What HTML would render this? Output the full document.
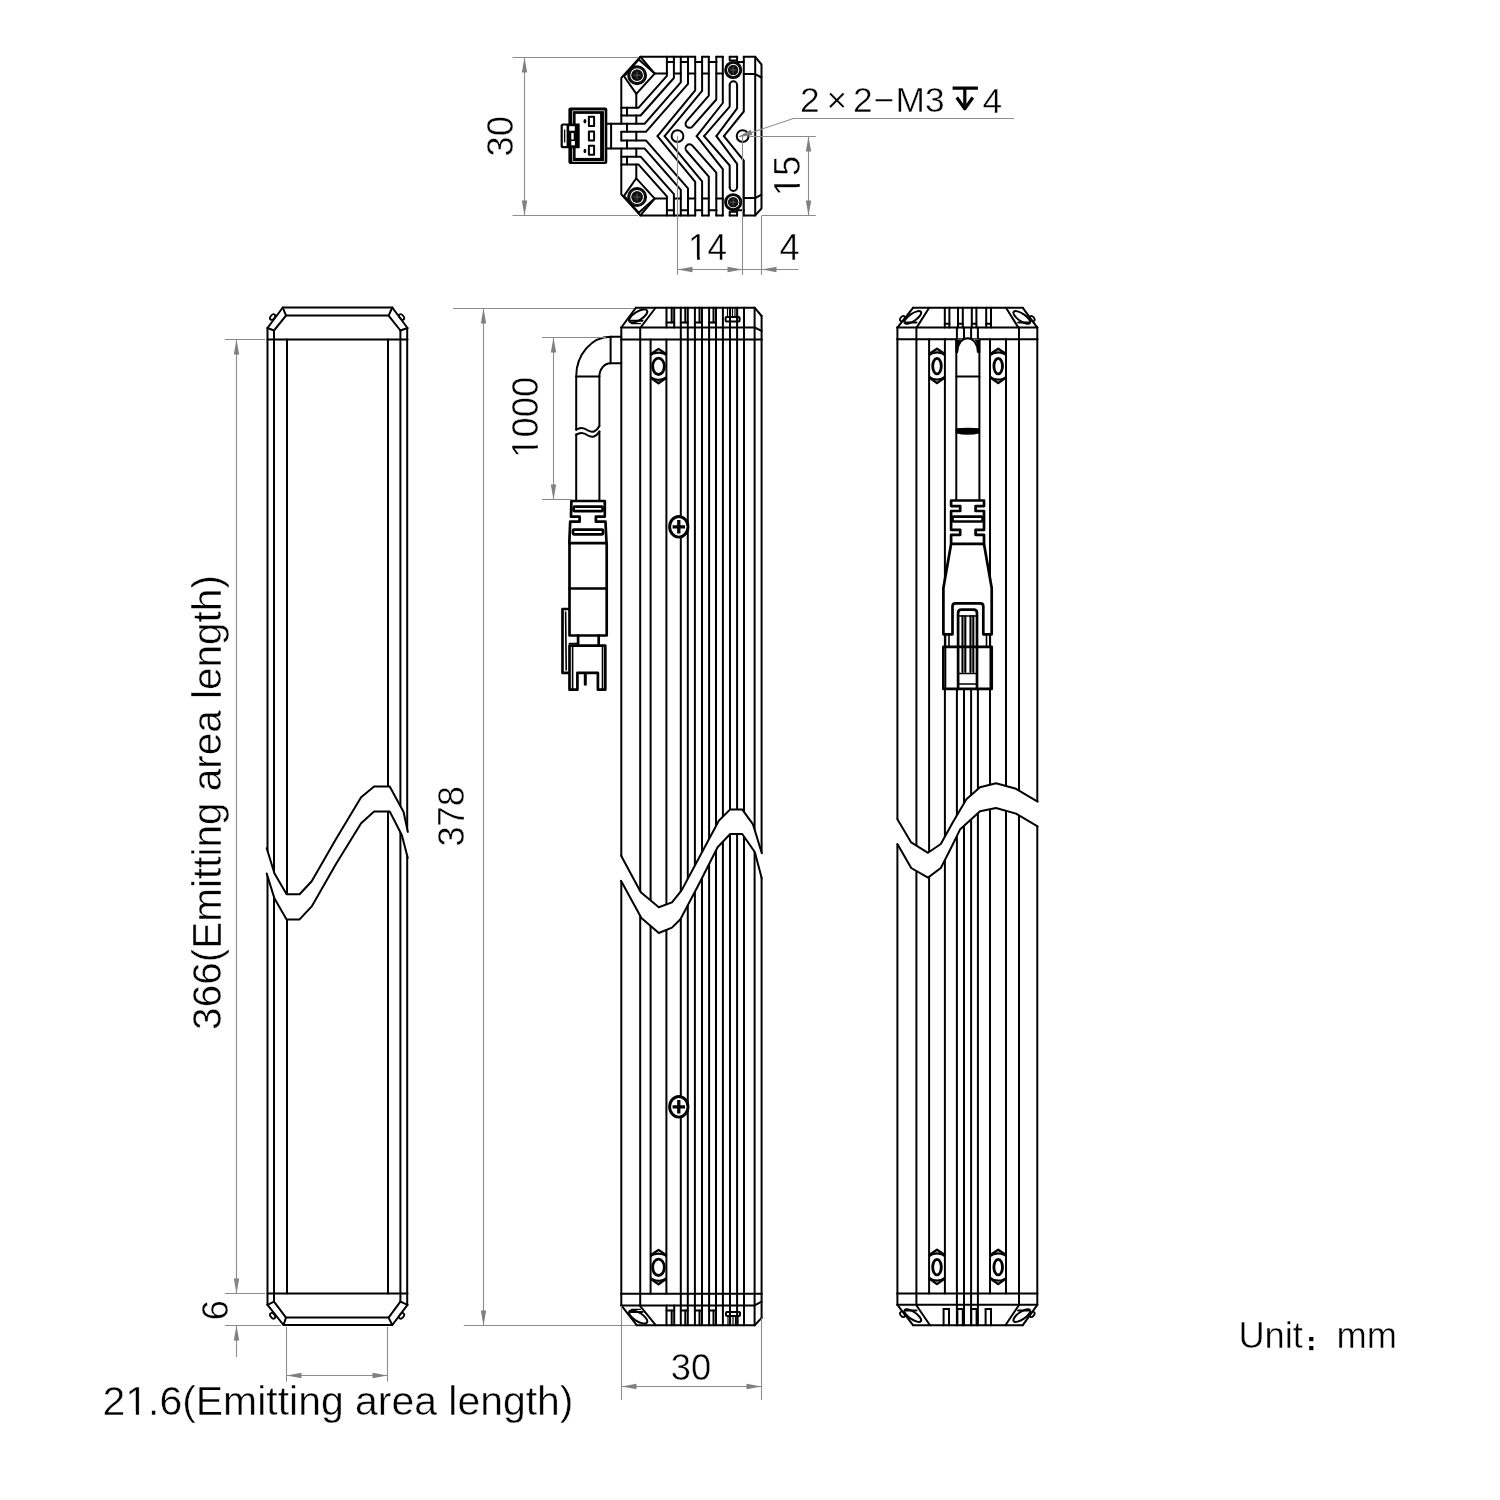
<!DOCTYPE html>
<html><head><meta charset="utf-8"><style>
html,body{margin:0;padding:0;background:#fff;overflow:hidden;width:1500px;height:1500px;}
svg{display:block;will-change:transform;}
.k{stroke:#000;stroke-width:2.0;fill:none;stroke-linecap:round;stroke-linejoin:round;}
.d{stroke:#8c8c8c;stroke-width:1.1;fill:none;}
.a{fill:#808080;stroke:none;}
text{font-family:"Liberation Sans",sans-serif;fill:#000;stroke:#fff;stroke-width:0.45px;}
</style></head><body>
<svg width="1500" height="1500" viewBox="0 0 1500 1500">
<rect width="1500" height="1500" fill="#fff"/>
<g class="k">
<path d="M267.50,328.00 L282.80,307.50 L392.30,307.50 L407.50,328.00" />
<path d="M274.00,330.50 L286.00,315.60 L388.60,315.60 L400.40,330.50" />
<line x1="267.50" y1="328.00" x2="274.00" y2="330.50"/>
<line x1="407.50" y1="328.00" x2="400.40" y2="330.50"/>
<line x1="282.80" y1="307.50" x2="286.00" y2="315.60"/>
<line x1="392.30" y1="307.50" x2="388.60" y2="315.60"/>
<line x1="267.50" y1="339.50" x2="407.50" y2="339.50"/>
<line x1="267.50" y1="1293.50" x2="407.50" y2="1293.50"/>
<path d="M267.50,1304.80 L283.50,1325.00 L392.30,1325.00 L407.50,1304.80" />
<path d="M274.00,1301.60 L286.00,1317.60 L388.60,1317.60 L400.40,1301.60" />
<line x1="267.50" y1="1304.80" x2="274.00" y2="1301.60"/>
<line x1="407.50" y1="1304.80" x2="400.40" y2="1301.60"/>
<line x1="283.50" y1="1325.00" x2="286.00" y2="1317.60"/>
<line x1="392.30" y1="1325.00" x2="388.60" y2="1317.60"/>
<line x1="267.50" y1="328.00" x2="267.50" y2="1304.80"/>
<line x1="274.00" y1="330.50" x2="274.00" y2="1301.60"/>
<line x1="287.00" y1="339.50" x2="287.00" y2="1293.50"/>
<line x1="388.00" y1="339.50" x2="388.00" y2="1293.50"/>
<line x1="400.40" y1="330.50" x2="400.40" y2="1301.60"/>
<line x1="407.20" y1="328.00" x2="407.20" y2="1304.80"/>
</g>
<g class="k" style="stroke-width:1.8">
<ellipse cx="272.6" cy="317.0" rx="3.2" ry="2.0" transform="rotate(-50 272.6 317.0)"/>
<ellipse cx="401.6" cy="317.0" rx="3.2" ry="2.0" transform="rotate(50 401.6 317.0)"/>
<ellipse cx="272.6" cy="1315.8" rx="3.2" ry="2.0" transform="rotate(50 272.6 1315.8)"/>
<ellipse cx="401.6" cy="1315.8" rx="3.2" ry="2.0" transform="rotate(-50 401.6 1315.8)"/>
</g>
<path d="M265.10,848.30 L266.70,848.30 L274.50,873.50 L286.60,894.30 L299.60,894.30 L311.70,881.30 L336.00,839.00 L361.10,797.20 L374.10,786.50 L389.70,786.50 L403.60,812.00 L407.80,831.90 L409.40,831.90 L409.40,857.90 L407.80,857.90 L401.90,835.30 L389.70,811.40 L374.10,811.40 L361.10,823.20 L336.00,864.00 L311.70,906.40 L299.60,919.40 L286.60,919.40 L274.50,898.60 L266.70,873.50 L265.10,873.50 Z" fill="#fff" stroke="none"/>
<g class="k">
<path d="M266.70,848.30 L274.50,873.50 L286.60,894.30 L299.60,894.30 L311.70,881.30 L336.00,839.00 L361.10,797.20 L374.10,786.50 L389.70,786.50 L403.60,812.00 L407.80,831.90" />
<path d="M266.70,873.50 L274.50,898.60 L286.60,919.40 L299.60,919.40 L311.70,906.40 L336.00,864.00 L361.10,823.20 L374.10,811.40 L389.70,811.40 L401.90,835.30 L407.80,857.90" />
</g>
<line class="d" x1="224.80" y1="339.50" x2="265.00" y2="339.50"/>
<line class="d" x1="224.80" y1="1293.50" x2="265.00" y2="1293.50"/>
<line class="d" x1="236.50" y1="339.50" x2="236.50" y2="1293.50"/>
<path class="a" d="M236.50,339.50 L239.20,354.50 L233.80,354.50 Z"/>
<path class="a" d="M236.50,1293.50 L233.80,1278.50 L239.20,1278.50 Z"/>
<line class="d" x1="224.80" y1="1325.50" x2="281.00" y2="1325.50"/>
<line class="d" x1="236.50" y1="1270.00" x2="236.50" y2="1293.50"/>
<line class="d" x1="236.50" y1="1325.50" x2="236.50" y2="1357.00"/>
<path class="a" d="M236.50,1325.50 L239.20,1340.50 L233.80,1340.50 Z"/>
<line class="d" x1="286.50" y1="1327.00" x2="286.50" y2="1381.60"/>
<line class="d" x1="387.50" y1="1327.00" x2="387.50" y2="1381.60"/>
<line class="d" x1="286.50" y1="1375.50" x2="387.50" y2="1375.50"/>
<path class="a" d="M286.50,1375.50 L301.50,1372.80 L301.50,1378.20 Z"/>
<path class="a" d="M387.50,1375.50 L372.50,1378.20 L372.50,1372.80 Z"/>
<line class="d" x1="453.00" y1="308.50" x2="636.00" y2="308.50"/>
<line class="d" x1="463.70" y1="1325.50" x2="636.00" y2="1325.50"/>
<line class="d" x1="483.50" y1="308.50" x2="483.50" y2="1325.50"/>
<path class="a" d="M483.50,308.50 L486.20,323.50 L480.80,323.50 Z"/>
<path class="a" d="M483.50,1325.50 L480.80,1310.50 L486.20,1310.50 Z"/>
<g class="k">
<line x1="621.30" y1="339.50" x2="621.30" y2="1293.70"/>
<line x1="640.20" y1="339.50" x2="640.20" y2="1293.70"/>
<line x1="650.60" y1="339.50" x2="650.60" y2="1293.70"/>
<line x1="666.40" y1="339.50" x2="666.40" y2="1293.70"/>
<line x1="680.80" y1="339.50" x2="680.80" y2="1293.70"/>
<line x1="687.80" y1="339.50" x2="687.80" y2="1293.70"/>
<line x1="694.90" y1="339.50" x2="694.90" y2="1293.70"/>
<line x1="702.00" y1="339.50" x2="702.00" y2="1293.70"/>
<line x1="709.10" y1="339.50" x2="709.10" y2="1293.70"/>
<line x1="716.00" y1="339.50" x2="716.00" y2="1293.70"/>
<line x1="722.90" y1="339.50" x2="722.90" y2="1293.70"/>
<line x1="730.00" y1="339.50" x2="730.00" y2="1293.70"/>
<line x1="737.10" y1="339.50" x2="737.10" y2="1293.70"/>
<line x1="744.00" y1="339.50" x2="744.00" y2="1293.70"/>
<line x1="754.60" y1="339.50" x2="754.60" y2="1293.70"/>
<line x1="761.60" y1="339.50" x2="761.60" y2="1293.70"/>
<line x1="636.00" y1="307.70" x2="754.60" y2="307.70"/>
<line x1="621.30" y1="327.50" x2="636.00" y2="307.70"/>
<line x1="754.60" y1="307.70" x2="761.60" y2="316.00"/>
<line x1="761.60" y1="316.00" x2="761.60" y2="339.50"/>
<line x1="621.30" y1="327.50" x2="621.30" y2="339.50"/>
<line x1="621.30" y1="327.50" x2="754.60" y2="327.50"/>
<line x1="754.60" y1="327.50" x2="761.60" y2="330.90"/>
<line x1="621.30" y1="339.50" x2="761.60" y2="339.50"/>
<line x1="640.20" y1="327.50" x2="640.20" y2="339.50"/>
<line x1="640.60" y1="327.50" x2="655.00" y2="308.50"/>
<ellipse cx="638.2" cy="316.0" rx="10.4" ry="4.3" transform="rotate(-32 638.2 316.0)"/>
<line x1="630.80" y1="320.80" x2="642.50" y2="320.80"/>
<line x1="631.50" y1="323.60" x2="640.50" y2="323.60" stroke-width="1.3"/>
<line x1="680.80" y1="307.70" x2="680.80" y2="339.50"/>
<line x1="687.80" y1="307.70" x2="687.80" y2="339.50"/>
<line x1="694.90" y1="307.70" x2="694.90" y2="339.50"/>
<line x1="702.00" y1="307.70" x2="702.00" y2="339.50"/>
<line x1="709.10" y1="307.70" x2="709.10" y2="339.50"/>
<line x1="716.00" y1="307.70" x2="716.00" y2="339.50"/>
<line x1="722.90" y1="307.70" x2="722.90" y2="339.50"/>
<line x1="730.00" y1="307.70" x2="730.00" y2="339.50"/>
<line x1="737.10" y1="307.70" x2="737.10" y2="339.50"/>
<line x1="744.00" y1="307.70" x2="744.00" y2="339.50"/>
<line x1="754.60" y1="307.70" x2="754.60" y2="339.50"/>
<line x1="666.50" y1="307.70" x2="666.50" y2="327.50"/>
<line x1="674.20" y1="307.70" x2="674.20" y2="327.50"/>
<line x1="671.70" y1="307.70" x2="671.70" y2="322.60"/>
<line x1="666.50" y1="322.60" x2="674.20" y2="322.60"/>
<line x1="685.30" y1="307.70" x2="685.30" y2="322.60"/>
<line x1="680.80" y1="322.60" x2="687.80" y2="322.60"/>
<line x1="699.50" y1="307.70" x2="699.50" y2="322.60"/>
<line x1="694.90" y1="322.60" x2="702.00" y2="322.60"/>
<line x1="713.50" y1="307.70" x2="713.50" y2="322.60"/>
<line x1="709.10" y1="322.60" x2="716.00" y2="322.60"/>
<rect x="725.6" y="317" width="14" height="4.5" rx="1"/>
<line x1="727.50" y1="308.50" x2="727.50" y2="316.50" stroke-width="1.2"/>
<line x1="730.00" y1="308.50" x2="730.00" y2="316.50" stroke-width="1.2"/>
<line x1="732.50" y1="308.50" x2="732.50" y2="316.50" stroke-width="1.2"/>
<line x1="735.00" y1="308.50" x2="735.00" y2="316.50" stroke-width="1.2"/>
<line x1="737.50" y1="308.50" x2="737.50" y2="316.50" stroke-width="1.2"/>
<line x1="636.70" y1="1325.20" x2="754.70" y2="1325.20"/>
<line x1="621.30" y1="1305.40" x2="636.70" y2="1325.20"/>
<line x1="754.70" y1="1325.20" x2="761.60" y2="1317.90"/>
<line x1="761.60" y1="1293.70" x2="761.60" y2="1317.90"/>
<line x1="621.30" y1="1293.70" x2="621.30" y2="1305.40"/>
<line x1="621.30" y1="1305.40" x2="754.60" y2="1305.40"/>
<line x1="754.60" y1="1305.40" x2="761.60" y2="1301.70"/>
<line x1="621.30" y1="1293.70" x2="761.60" y2="1293.70"/>
<line x1="640.20" y1="1293.70" x2="640.20" y2="1305.40"/>
<line x1="639.60" y1="1305.40" x2="655.70" y2="1325.20"/>
<ellipse cx="638.2" cy="1316.9" rx="10.4" ry="4.3" transform="rotate(32 638.2 1316.9)"/>
<line x1="630.80" y1="1312.10" x2="642.50" y2="1312.10"/>
<line x1="631.50" y1="1309.30" x2="640.50" y2="1309.30" stroke-width="1.3"/>
<line x1="680.80" y1="1293.70" x2="680.80" y2="1325.20"/>
<line x1="687.80" y1="1293.70" x2="687.80" y2="1325.20"/>
<line x1="694.90" y1="1293.70" x2="694.90" y2="1325.20"/>
<line x1="702.00" y1="1293.70" x2="702.00" y2="1325.20"/>
<line x1="709.10" y1="1293.70" x2="709.10" y2="1325.20"/>
<line x1="716.00" y1="1293.70" x2="716.00" y2="1325.20"/>
<line x1="722.90" y1="1293.70" x2="722.90" y2="1325.20"/>
<line x1="730.00" y1="1293.70" x2="730.00" y2="1325.20"/>
<line x1="737.10" y1="1293.70" x2="737.10" y2="1325.20"/>
<line x1="744.00" y1="1293.70" x2="744.00" y2="1325.20"/>
<line x1="754.60" y1="1293.70" x2="754.60" y2="1325.20"/>
<line x1="666.50" y1="1305.40" x2="666.50" y2="1325.20"/>
<line x1="674.20" y1="1305.40" x2="674.20" y2="1325.20"/>
<line x1="671.70" y1="1310.50" x2="671.70" y2="1325.20"/>
<line x1="666.50" y1="1310.50" x2="674.20" y2="1310.50"/>
<line x1="685.30" y1="1310.50" x2="685.30" y2="1325.20"/>
<line x1="680.80" y1="1310.50" x2="687.80" y2="1310.50"/>
<line x1="699.50" y1="1310.50" x2="699.50" y2="1325.20"/>
<line x1="694.90" y1="1310.50" x2="702.00" y2="1310.50"/>
<line x1="713.50" y1="1310.50" x2="713.50" y2="1325.20"/>
<line x1="709.10" y1="1310.50" x2="716.00" y2="1310.50"/>
<rect x="726" y="1312" width="14" height="4" rx="1"/>
<line x1="728.00" y1="1317.00" x2="728.00" y2="1324.50" stroke-width="1.2"/>
<line x1="730.50" y1="1317.00" x2="730.50" y2="1324.50" stroke-width="1.2"/>
<line x1="733.00" y1="1317.00" x2="733.00" y2="1324.50" stroke-width="1.2"/>
<line x1="735.50" y1="1317.00" x2="735.50" y2="1324.50" stroke-width="1.2"/>
<line x1="738.00" y1="1317.00" x2="738.00" y2="1324.50" stroke-width="1.2"/>
</g>
<g class="k">
<clipPath id="nc1"><rect x="650.60" y="346.20" width="15.80" height="40"/></clipPath>
<path d="M651.00,354.00 L658.50,348.90 L666.00,354.00 M651.00,378.00 L658.50,383.30 L666.00,378.00" stroke-width="2.3"/>
<circle cx="658.50" cy="366.20" r="13.6" stroke-width="2.2" clip-path="url(#nc1)"/>
<ellipse cx="658.50" cy="366.30" rx="5.8" ry="8.2" stroke-width="2.8" fill="#fff"/>
<clipPath id="nc2"><rect x="650.60" y="1247.20" width="15.80" height="40"/></clipPath>
<path d="M651.00,1255.00 L658.50,1249.90 L666.00,1255.00 M651.00,1279.00 L658.50,1284.30 L666.00,1279.00" stroke-width="2.3"/>
<circle cx="658.50" cy="1267.20" r="13.6" stroke-width="2.2" clip-path="url(#nc2)"/>
<ellipse cx="658.50" cy="1267.30" rx="5.8" ry="8.2" stroke-width="2.8" fill="#fff"/>
</g>
<g class="k">
<ellipse cx="678.8" cy="526.8" rx="9.2" ry="10.3" stroke-width="2.9" fill="#fff"/>
<path d="M672.5999999999999,526.8 L685.0,526.8 M678.8,520.0 L678.8,533.5999999999999" stroke-width="3.3" stroke-linecap="butt"/>
<ellipse cx="678.8" cy="1106.8" rx="9.2" ry="10.3" stroke-width="2.9" fill="#fff"/>
<path d="M672.5999999999999,1106.8 L685.0,1106.8 M678.8,1100.0 L678.8,1113.6" stroke-width="3.3" stroke-linecap="butt"/>
</g>
<path d="M619.40,855.60 L621.00,855.60 L640.80,892.20 L658.80,907.20 L672.00,902.40 L681.60,890.40 L700.00,856.00 L718.80,820.80 L730.20,809.40 L742.20,809.40 L753.00,824.40 L761.80,853.20 L763.40,853.20 L763.40,878.40 L761.80,878.40 L754.80,852.00 L742.20,834.00 L730.20,834.00 L717.60,847.20 L699.00,884.00 L680.40,919.20 L672.00,927.60 L658.80,933.00 L641.40,918.00 L621.00,880.80 L619.40,880.80 Z" fill="#fff" stroke="none"/>
<g class="k">
<path d="M621.00,855.60 L640.80,892.20 L658.80,907.20 L672.00,902.40 L681.60,890.40 L700.00,856.00 L718.80,820.80 L730.20,809.40 L742.20,809.40 L753.00,824.40 L761.80,853.20" />
<path d="M621.00,880.80 L641.40,918.00 L658.80,933.00 L672.00,927.60 L680.40,919.20 L699.00,884.00 L717.60,847.20 L730.20,834.00 L742.20,834.00 L754.80,852.00 L761.80,878.40" />
</g>
<g class="k">
<path d="M576.2,429.7 L576.2,376.4 A34.4,39.6 0 0 1 610.6,336.8 L621.3,336.8"/>
<line x1="610.60" y1="336.80" x2="610.60" y2="363.20"/>
<line x1="610.60" y1="363.20" x2="621.30" y2="363.20"/>
<path d="M599.4,426 L599.4,376.4 A11.2,13.2 0 0 1 610.6,363.2"/>
<line x1="576.20" y1="376.40" x2="599.40" y2="376.40"/>
<path d="M576.2,429.7 C580,427 584,427.5 588,430.5 C592,433 596,432 599.4,426"/>
<path d="M576.2,434.6 C580,432 584,432.5 588,435.5 C592,438 596,437 599.4,431.5"/>
<line x1="576.20" y1="434.60" x2="576.20" y2="499.80"/>
<line x1="599.40" y1="431.50" x2="599.40" y2="499.80"/>
</g>
<g class="k" style="stroke-width:2.7">
<path d="M571.4,501 L604.8,501 L604.8,516.6 L595.9,516.6 L595.9,521.7 L605.5,521.7 L606.5,543.2 M571.4,501 L571.0,516.6 L579.6,516.6 L579.6,521.7 L570.2,521.7 L569.3,543.2"/>
<rect x="573.6" y="506.6" width="29" height="4.6" rx="1"/>
<rect x="573.0" y="529.7" width="30" height="4.6" rx="1"/>
<rect x="569.5" y="543.2" width="37.2" height="92.3"/>
<line x1="569.50" y1="588.50" x2="606.70" y2="588.50"/>
<path d="M578.1,635.5 L578.1,645.7 M598.7,635.5 L598.7,645.7"/>
<path d="M569.5,645.7 L605.3,645.7 L605.3,689.7 L597.9,689.7 L597.9,672.9 L577.4,672.9 L577.4,689.7 L569.5,689.7 Z"/>
<path d="M567.9,609 L562.5,609 L562.5,672.9 L567.9,672.9"/>
<line x1="585.30" y1="673.50" x2="585.30" y2="684.20" stroke-width="3.0"/>
<line x1="572.60" y1="647.50" x2="572.60" y2="689.20" stroke-width="1.6"/>
<line x1="602.50" y1="647.50" x2="602.50" y2="689.20" stroke-width="1.6"/>
<line x1="565.60" y1="612.00" x2="566.20" y2="670.00" stroke-width="1.6"/>
<line x1="569.50" y1="643.60" x2="577.60" y2="643.60" stroke-width="1.8"/>
</g>
<g class="k">
<line x1="897.40" y1="339.20" x2="897.40" y2="1293.40"/>
<line x1="916.40" y1="339.20" x2="916.40" y2="1293.40"/>
<line x1="929.10" y1="339.20" x2="929.10" y2="1293.40"/>
<line x1="944.90" y1="339.20" x2="944.90" y2="1293.40"/>
<line x1="990.00" y1="339.20" x2="990.00" y2="1293.40"/>
<line x1="1006.00" y1="339.20" x2="1006.00" y2="1293.40"/>
<line x1="1019.00" y1="339.20" x2="1019.00" y2="1293.40"/>
<line x1="1037.30" y1="339.20" x2="1037.30" y2="1293.40"/>
<line x1="956.90" y1="688.90" x2="956.90" y2="1293.40"/>
<line x1="964.00" y1="688.90" x2="964.00" y2="1293.40"/>
<line x1="971.10" y1="688.90" x2="971.10" y2="1293.40"/>
<line x1="977.90" y1="688.90" x2="977.90" y2="1293.40"/>
<line x1="956.90" y1="1293.40" x2="956.90" y2="1325.20"/>
<line x1="964.00" y1="1293.40" x2="964.00" y2="1325.20"/>
<line x1="971.10" y1="1293.40" x2="971.10" y2="1325.20"/>
<line x1="977.90" y1="1293.40" x2="977.90" y2="1325.20"/>
<line x1="913.00" y1="307.80" x2="1022.80" y2="307.80"/>
<line x1="897.40" y1="327.60" x2="913.00" y2="307.80"/>
<line x1="1022.80" y1="307.80" x2="1037.30" y2="327.60"/>
<line x1="897.40" y1="327.60" x2="1037.30" y2="327.60"/>
<line x1="897.40" y1="339.20" x2="1037.30" y2="339.20"/>
<line x1="897.40" y1="327.60" x2="897.40" y2="339.20"/>
<line x1="1037.30" y1="327.60" x2="1037.30" y2="339.20"/>
<line x1="916.40" y1="327.60" x2="916.40" y2="339.20"/>
<line x1="1019.00" y1="327.60" x2="1019.00" y2="339.20"/>
<line x1="956.90" y1="327.60" x2="956.90" y2="339.20"/>
<line x1="964.00" y1="327.60" x2="964.00" y2="339.20"/>
<line x1="971.10" y1="327.60" x2="971.10" y2="339.20"/>
<line x1="977.90" y1="327.60" x2="977.90" y2="339.20"/>
<line x1="916.60" y1="327.60" x2="929.20" y2="307.80"/>
<line x1="1006.00" y1="307.80" x2="1018.40" y2="327.60"/>
<line x1="944.80" y1="307.80" x2="944.80" y2="327.60"/>
<line x1="949.40" y1="307.80" x2="949.40" y2="327.60"/>
<line x1="944.80" y1="323.80" x2="949.40" y2="323.80"/>
<line x1="958.00" y1="307.80" x2="958.00" y2="327.60"/>
<line x1="962.80" y1="307.80" x2="962.80" y2="327.60"/>
<line x1="958.00" y1="323.80" x2="962.80" y2="323.80"/>
<line x1="971.80" y1="307.80" x2="971.80" y2="327.60"/>
<line x1="976.40" y1="307.80" x2="976.40" y2="327.60"/>
<line x1="971.80" y1="323.80" x2="976.40" y2="323.80"/>
<line x1="986.20" y1="307.80" x2="986.20" y2="327.60"/>
<line x1="991.00" y1="307.80" x2="991.00" y2="327.60"/>
<line x1="986.20" y1="323.80" x2="991.00" y2="323.80"/>
<ellipse cx="912.8" cy="317.4" rx="9.8" ry="3.7" transform="rotate(-34 912.8 317.4)"/>
<ellipse cx="1021.8" cy="317.4" rx="9.8" ry="3.7" transform="rotate(34 1021.8 317.4)"/>
<ellipse cx="912.8" cy="1315.6" rx="9.8" ry="3.7" transform="rotate(34 912.8 1315.6)"/>
<ellipse cx="1021.8" cy="1315.6" rx="9.8" ry="3.7" transform="rotate(-34 1021.8 1315.6)"/>
<line x1="906.00" y1="322.60" x2="916.50" y2="322.60"/>
<line x1="1018.10" y1="322.60" x2="1028.60" y2="322.60"/>
<line x1="906.00" y1="1310.40" x2="916.50" y2="1310.40"/>
<line x1="1018.10" y1="1310.40" x2="1028.60" y2="1310.40"/>
<ellipse cx="902.4" cy="318.6" rx="3.0" ry="1.9" stroke-width="1.8" transform="rotate(-50 902.4 318.6)"/>
<ellipse cx="1032.2" cy="318.6" rx="3.0" ry="1.9" stroke-width="1.8" transform="rotate(50 1032.2 318.6)"/>
<ellipse cx="902.4" cy="1314.4" rx="3.0" ry="1.9" stroke-width="1.8" transform="rotate(50 902.4 1314.4)"/>
<ellipse cx="1032.2" cy="1314.4" rx="3.0" ry="1.9" stroke-width="1.8" transform="rotate(-50 1032.2 1314.4)"/>
<line x1="913.00" y1="1325.20" x2="1022.80" y2="1325.20"/>
<line x1="897.40" y1="1304.80" x2="913.00" y2="1325.20"/>
<line x1="1022.80" y1="1325.20" x2="1037.30" y2="1304.80"/>
<line x1="897.40" y1="1293.40" x2="1037.30" y2="1293.40"/>
<line x1="897.40" y1="1304.80" x2="1037.30" y2="1304.80"/>
<line x1="897.40" y1="1293.40" x2="897.40" y2="1304.80"/>
<line x1="1037.30" y1="1293.40" x2="1037.30" y2="1304.80"/>
<line x1="916.40" y1="1293.40" x2="916.40" y2="1304.80"/>
<line x1="1019.00" y1="1293.40" x2="1019.00" y2="1304.80"/>
<line x1="916.00" y1="1304.80" x2="930.00" y2="1325.20"/>
<line x1="1019.20" y1="1304.80" x2="1005.40" y2="1325.20"/>
<line x1="943.60" y1="1309.00" x2="943.60" y2="1325.20"/>
<line x1="949.00" y1="1309.00" x2="949.00" y2="1325.20"/>
<line x1="943.60" y1="1309.00" x2="949.00" y2="1309.00"/>
<line x1="957.40" y1="1309.00" x2="957.40" y2="1325.20"/>
<line x1="962.80" y1="1309.00" x2="962.80" y2="1325.20"/>
<line x1="957.40" y1="1309.00" x2="962.80" y2="1309.00"/>
<line x1="971.20" y1="1309.00" x2="971.20" y2="1325.20"/>
<line x1="976.60" y1="1309.00" x2="976.60" y2="1325.20"/>
<line x1="971.20" y1="1309.00" x2="976.60" y2="1309.00"/>
<line x1="985.60" y1="1309.00" x2="985.60" y2="1325.20"/>
<line x1="991.00" y1="1309.00" x2="991.00" y2="1325.20"/>
<line x1="985.60" y1="1309.00" x2="991.00" y2="1309.00"/>
</g>
<g class="k">
<clipPath id="nc3"><rect x="929.10" y="346.00" width="15.80" height="40"/></clipPath>
<path d="M929.50,353.80 L937.00,348.70 L944.50,353.80 M929.50,377.80 L937.00,383.10 L944.50,377.80" stroke-width="2.3"/>
<circle cx="937.00" cy="366.00" r="13.6" stroke-width="2.2" clip-path="url(#nc3)"/>
<ellipse cx="937.00" cy="366.10" rx="4.3" ry="7.8" stroke-width="2.8" fill="#fff"/>
<clipPath id="nc4"><rect x="990.30" y="346.00" width="15.80" height="40"/></clipPath>
<path d="M990.70,353.80 L998.20,348.70 L1005.70,353.80 M990.70,377.80 L998.20,383.10 L1005.70,377.80" stroke-width="2.3"/>
<circle cx="998.20" cy="366.00" r="13.6" stroke-width="2.2" clip-path="url(#nc4)"/>
<ellipse cx="998.20" cy="366.10" rx="4.3" ry="7.8" stroke-width="2.8" fill="#fff"/>
<clipPath id="nc5"><rect x="929.10" y="1247.00" width="15.80" height="40"/></clipPath>
<path d="M929.50,1254.80 L937.00,1249.70 L944.50,1254.80 M929.50,1278.80 L937.00,1284.10 L944.50,1278.80" stroke-width="2.3"/>
<circle cx="937.00" cy="1267.00" r="13.6" stroke-width="2.2" clip-path="url(#nc5)"/>
<ellipse cx="937.00" cy="1267.10" rx="4.3" ry="7.8" stroke-width="2.8" fill="#fff"/>
<clipPath id="nc6"><rect x="990.30" y="1247.00" width="15.80" height="40"/></clipPath>
<path d="M990.70,1254.80 L998.20,1249.70 L1005.70,1254.80 M990.70,1278.80 L998.20,1284.10 L1005.70,1278.80" stroke-width="2.3"/>
<circle cx="998.20" cy="1267.00" r="13.6" stroke-width="2.2" clip-path="url(#nc6)"/>
<ellipse cx="998.20" cy="1267.10" rx="4.3" ry="7.8" stroke-width="2.8" fill="#fff"/>
</g>
<path d="M895.80,819.20 L897.40,819.20 L911.20,842.40 L928.00,852.80 L940.80,844.00 L953.00,822.00 L966.40,799.20 L980.00,787.20 L996.00,783.20 L1016.00,788.80 L1037.60,801.60 L1039.20,801.60 L1039.20,826.40 L1037.60,826.40 L1016.00,813.60 L996.00,808.00 L980.00,811.20 L960.00,829.60 L950.00,850.00 L940.80,868.00 L928.00,877.60 L911.20,868.00 L897.40,844.00 L895.80,844.00 Z" fill="#fff" stroke="none"/>
<g class="k">
<path d="M897.40,819.20 L911.20,842.40 L928.00,852.80 L940.80,844.00 L953.00,822.00 L966.40,799.20 L980.00,787.20 L996.00,783.20 L1016.00,788.80 L1037.60,801.60" />
<path d="M897.40,844.00 L911.20,868.00 L928.00,877.60 L940.80,868.00 L950.00,850.00 L960.00,829.60 L980.00,811.20 L996.00,808.00 L1016.00,813.60 L1037.60,826.40" />
</g>
<g class="k">
<path d="M956.3,500.5 L956.3,339.2 L979.4,339.2 L979.4,500.5 Z" fill="#fff" stroke="none"/>
<path d="M956.3,500.5 L956.3,339.2 M979.4,339.2 L979.4,500.5"/>
<path d="M957.3,352 A10.3,13.8 0 0 1 977.9,352"/>
<path d="M955.4,339.6 L961.5,339.6 Q957.8,343.5 957.5,352.5 L955.4,352.5 Z" fill="#000" stroke="none"/>
<path d="M980.3,339.6 L974.2,339.6 Q977.9,343.5 978.2,352.5 L980.3,352.5 Z" fill="#000" stroke="none"/>
<line x1="956.30" y1="376.40" x2="979.40" y2="376.40"/>
<path d="M955.6,428.3 Q967.8,427.2 980,428.3 L980,433.2 Q967.8,436.2 955.6,433.2 Z" fill="#000" stroke="none"/>
</g>
<g class="k" style="stroke-width:2.7">
<path fill="#fff" d="M951.1,500.5 L984,500.5 L984,506.1 L975.6,506.1 L975.6,511 L984,511 L984,529.9 L975.6,529.9 L975.6,534.8 L984,534.8 L984,543.9 L991.7,588 L991.7,634.3 L983.3,634.3 L983.3,606.4 Q983.3,603.4 980.3,603.4 L955.5,603.4 Q952.5,603.4 952.5,606.4 L952.5,634.3 L943.4,634.3 L943.4,588 L951.1,543.9 L951.1,534.8 L960.2,534.8 L960.2,529.9 L951.1,529.9 L951.1,511 L960.2,511 L960.2,506.1 L951.1,506.1 Z"/>
<line x1="951.10" y1="543.90" x2="984.00" y2="543.90"/>
<rect x="952.5" y="516.6" width="30.1" height="4.9" rx="1"/>
<path fill="#fff" d="M943.4,646.9 L991.7,646.9 L991.7,688.9 L943.4,688.9 Z"/>
<path d="M945.5,634.3 L945.5,688.9 M990.3,634.3 L990.3,688.9" style="stroke-width:1.6"/>
<path d="M949,634.3 L949,646.9 M986.5,634.3 L986.5,646.9" style="stroke-width:1.6"/>
<path d="M958.1,688.9 L958.1,613 Q958.1,609.7 961.4,609.7 L973.7,609.7 Q977,609.7 977,613 L977,688.9"/>
<path d="M962.5,616 L962.5,672 M965.3,616 L965.3,672 M970.5,616 L970.5,672 M973.3,616 L973.3,672" style="stroke-width:2.1"/>
<path d="M958.1,616 L977,616 M958.1,673.5 L977,673.5 M958.1,684 L977,684" style="stroke-width:1.6"/>
</g>
<g class="k">
<path d="M640.3,56.8 L621.3,77.9 L621.3,123.8 M621.3,148.4 L621.3,194.3 L640.3,215.4"/>
<line x1="621.30" y1="131.80" x2="621.30" y2="140.40"/>
<line x1="636.30" y1="131.80" x2="636.30" y2="140.40"/>
<line x1="640.30" y1="56.80" x2="695.20" y2="56.80"/>
<line x1="640.30" y1="215.40" x2="695.20" y2="215.40"/>
<path d="M743.8,56.8 L755.2,56.8 L761.5,64.5 L761.5,208.5 L755.2,215.4 L743.8,215.4"/>
<line x1="755.20" y1="56.80" x2="755.20" y2="215.40"/>
<path d="M743.8,74.1 L755.2,74.1 L761.5,77.5"/>
<path d="M743.8,198.1 L755.2,198.1 L761.5,194.7"/>
<path d="M638.70,59.50 L654.70,73.60 L636.30,93.90 L624.00,76.30 L638.70,59.50" />
<path d="M641.00,57.50 L654.70,73.60" />
<path d="M636.30,93.90 L636.30,107.80" />
<path d="M654.70,73.60 L666.90,73.60" />
<path d="M666.90,56.80 L666.90,75.90 L638.40,107.80 L621.30,107.80" />
<path d="M673.90,62.00 L673.90,78.00 L640.60,115.50 L621.30,115.50" />
<path d="M680.80,56.80 L680.80,82.30 L644.50,123.80 L607.30,123.80" />
<path d="M688.00,62.00 L688.00,83.90 L645.90,131.80 L621.30,131.80" />
<path d="M627.00,107.80 L627.00,115.50" />
<path d="M627.00,123.80 L627.00,131.80" />
<path d="M636.30,115.50 L636.30,123.80" />
<path d="M695.20,56.80 L695.20,90.30 L657.50,136.10" />
<path d="M702.10,62.00 L702.10,90.80 L664.60,136.10" />
<path d="M708.80,56.80 L708.80,95.60 L686.60,121.20 A3.9,3.9 0 0 0 692.40,126.60 L716.30,99.50 L716.30,62.00"/>
<path d="M722.80,56.80 L722.80,103.00 L696.70,136.10" />
<path d="M729.70,85.00 L729.70,106.70 L704.10,136.10" />
<path d="M737.10,85.00 L737.10,108.30 L716.40,136.10" />
<path d="M743.80,74.10 L743.80,111.50 L723.90,136.10" />
<path d="M729.7,85.00 A3.7,3.7 0 0 1 737.1,85.00"/>
<path d="M666.90,62.00 L673.90,62.00" />
<path d="M680.80,62.00 L688.00,62.00" />
<path d="M673.90,73.60 L680.80,73.60" />
<path d="M688.00,73.60 L695.20,73.60" />
<path d="M702.10,73.60 L708.80,73.60" />
<path d="M716.30,73.60 L722.80,73.60" />
<path d="M695.20,62.00 L702.10,62.00" />
<path d="M708.80,62.00 L716.30,62.00" />
<path d="M737.10,62.00 L743.80,62.00" />
<path d="M702.10,56.80 L708.80,56.80" />
<path d="M716.30,56.80 L722.80,56.80" />
<path d="M702.10,56.80 L702.10,62.00" />
<path d="M716.30,56.80 L716.30,62.00" />
<path d="M673.90,56.80 L673.90,62.00" />
<path d="M688.00,56.80 L688.00,62.00" />
<path d="M743.80,56.80 L743.80,74.10" />
<path d="M729.70,56.80 L737.10,56.80" />
<path d="M729.70,56.80 L729.70,60.50 L737.10,60.50 L737.10,56.80" />
<path d="M638.70,212.70 L654.70,198.60 L636.30,178.30 L624.00,195.90 L638.70,212.70" />
<path d="M641.00,214.70 L654.70,198.60" />
<path d="M636.30,178.30 L636.30,164.40" />
<path d="M654.70,198.60 L666.90,198.60" />
<path d="M666.90,215.40 L666.90,196.30 L638.40,164.40 L621.30,164.40" />
<path d="M673.90,210.20 L673.90,194.20 L640.60,156.70 L621.30,156.70" />
<path d="M680.80,215.40 L680.80,189.90 L644.50,148.40 L607.30,148.40" />
<path d="M688.00,210.20 L688.00,188.30 L645.90,140.40 L621.30,140.40" />
<path d="M627.00,164.40 L627.00,156.70" />
<path d="M627.00,148.40 L627.00,140.40" />
<path d="M636.30,156.70 L636.30,148.40" />
<path d="M695.20,215.40 L695.20,181.90 L657.50,136.10" />
<path d="M702.10,210.20 L702.10,181.40 L664.60,136.10" />
<path d="M708.80,215.40 L708.80,176.60 L686.60,151.00 A3.9,3.9 0 0 1 692.40,145.60 L716.30,172.70 L716.30,210.20"/>
<path d="M722.80,215.40 L722.80,169.20 L696.70,136.10" />
<path d="M729.70,187.20 L729.70,165.50 L704.10,136.10" />
<path d="M737.10,187.20 L737.10,163.90 L716.40,136.10" />
<path d="M743.80,198.10 L743.80,160.70 L723.90,136.10" />
<path d="M729.7,187.20 A3.7,3.7 0 0 0 737.1,187.20"/>
<path d="M666.90,210.20 L673.90,210.20" />
<path d="M680.80,210.20 L688.00,210.20" />
<path d="M673.90,198.60 L680.80,198.60" />
<path d="M688.00,198.60 L695.20,198.60" />
<path d="M702.10,198.60 L708.80,198.60" />
<path d="M716.30,198.60 L722.80,198.60" />
<path d="M695.20,210.20 L702.10,210.20" />
<path d="M708.80,210.20 L716.30,210.20" />
<path d="M737.10,210.20 L743.80,210.20" />
<path d="M702.10,215.40 L708.80,215.40" />
<path d="M716.30,215.40 L722.80,215.40" />
<path d="M702.10,215.40 L702.10,210.20" />
<path d="M716.30,215.40 L716.30,210.20" />
<path d="M673.90,215.40 L673.90,210.20" />
<path d="M688.00,215.40 L688.00,210.20" />
<path d="M743.80,215.40 L743.80,198.10" />
<path d="M729.70,215.40 L737.10,215.40" />
<path d="M729.70,215.40 L729.70,211.70 L737.10,211.70 L737.10,215.40" />
<line x1="611.10" y1="123.80" x2="611.10" y2="148.40"/>
</g>
<g class="k">
<circle cx="677.5" cy="136.1" r="5.9"/>
<circle cx="742.6" cy="136.1" r="5.9"/>
</g>
<circle cx="637.1" cy="75.2" r="9.00" fill="#fff" stroke="none"/>
<circle cx="637.1" cy="75.2" r="5.90" fill="#111" stroke="none"/>
<circle cx="637.1" cy="75.2" r="6.70" fill="none" stroke="#fff" stroke-width="0.9"/>
<circle cx="637.1" cy="75.2" r="7.60" fill="none" stroke="#000" stroke-width="1.4"/>
<circle cx="637.1" cy="75.2" r="9.00" fill="none" stroke="#000" stroke-width="1.9"/>
<path d="M633.6,75.2 L640.6,75.2 M637.1,71.7 L637.1,78.7" stroke="#666" stroke-width="0.8"/>
<circle cx="637.1" cy="197.0" r="9.00" fill="#fff" stroke="none"/>
<circle cx="637.1" cy="197.0" r="5.90" fill="#111" stroke="none"/>
<circle cx="637.1" cy="197.0" r="6.70" fill="none" stroke="#fff" stroke-width="0.9"/>
<circle cx="637.1" cy="197.0" r="7.60" fill="none" stroke="#000" stroke-width="1.4"/>
<circle cx="637.1" cy="197.0" r="9.00" fill="none" stroke="#000" stroke-width="1.9"/>
<path d="M633.6,197.0 L640.6,197.0 M637.1,193.5 L637.1,200.5" stroke="#666" stroke-width="0.8"/>
<circle cx="733.2" cy="70.0" r="8.10" fill="#fff" stroke="none"/>
<circle cx="733.2" cy="70.0" r="5.31" fill="#111" stroke="none"/>
<circle cx="733.2" cy="70.0" r="6.03" fill="none" stroke="#fff" stroke-width="0.9"/>
<circle cx="733.2" cy="70.0" r="6.84" fill="none" stroke="#000" stroke-width="1.4"/>
<circle cx="733.2" cy="70.0" r="8.10" fill="none" stroke="#000" stroke-width="1.9"/>
<path d="M729.7,70.0 L736.7,70.0 M733.2,66.5 L733.2,73.5" stroke="#666" stroke-width="0.8"/>
<circle cx="733.2" cy="202.2" r="8.10" fill="#fff" stroke="none"/>
<circle cx="733.2" cy="202.2" r="5.31" fill="#111" stroke="none"/>
<circle cx="733.2" cy="202.2" r="6.03" fill="none" stroke="#fff" stroke-width="0.9"/>
<circle cx="733.2" cy="202.2" r="6.84" fill="none" stroke="#000" stroke-width="1.4"/>
<circle cx="733.2" cy="202.2" r="8.10" fill="none" stroke="#000" stroke-width="1.9"/>
<path d="M729.7,202.2 L736.7,202.2 M733.2,198.7 L733.2,205.7" stroke="#666" stroke-width="0.8"/>
<rect x="568.4" y="107.5" width="38.9" height="56.5" rx="2" fill="#000"/>
<rect x="575.6" y="113.9" width="24.5" height="44.0" fill="#fff"/>
<rect x="572.7" y="110.8" width="31.6" height="50.6" fill="none" stroke="#fff" stroke-width="0.7"/>
<path d="M578.6,124.5 L563.2,124.5 Q561.7,124.5 561.7,126 L561.7,145.7 Q561.7,147.2 563.2,147.2 L578.6,147.2 Z" fill="#fff" stroke="#000" stroke-width="2.2"/>
<rect x="566.6" y="124.5" width="12.0" height="22.7" fill="#000"/>
<rect x="569.2" y="126.2" width="5.6" height="4.5" fill="#fff"/>
<rect x="571.3" y="133.0" width="2.4" height="6.5" fill="#fff"/>
<rect x="571.3" y="141.0" width="3.6" height="4.3" fill="#fff"/>
<path d="M564.6,129.5 L564.6,142.5" stroke="#000" stroke-width="1.3"/>
<g class="k" style="stroke-width:2">
<rect x="588.9" y="116.7" width="5.2" height="9.2"/>
<rect x="588.9" y="131.6" width="5.2" height="8.8"/>
<rect x="588.9" y="145.8" width="5.2" height="9.0"/>
</g>
<ellipse cx="584.9" cy="121.3" rx="1.4" ry="2.3" fill="#000"/>
<ellipse cx="584.9" cy="151.0" rx="1.4" ry="2.3" fill="#000"/>
<line class="d" x1="512.50" y1="57.50" x2="638.00" y2="57.50"/>
<line class="d" x1="512.50" y1="215.50" x2="638.00" y2="215.50"/>
<line class="d" x1="524.50" y1="57.50" x2="524.50" y2="215.50"/>
<path class="a" d="M524.50,57.50 L527.20,72.50 L521.80,72.50 Z"/>
<path class="a" d="M524.50,215.50 L521.80,200.50 L527.20,200.50 Z"/>
<line class="d" x1="748.50" y1="136.50" x2="815.80" y2="136.50"/>
<line class="d" x1="762.00" y1="215.50" x2="815.80" y2="215.50"/>
<line class="d" x1="808.50" y1="136.50" x2="808.50" y2="215.50"/>
<path class="a" d="M808.50,136.50 L811.20,151.50 L805.80,151.50 Z"/>
<path class="a" d="M808.50,215.50 L805.80,200.50 L811.20,200.50 Z"/>
<line class="d" x1="677.50" y1="136.10" x2="677.50" y2="274.90"/>
<line class="d" x1="742.50" y1="136.10" x2="742.50" y2="274.90"/>
<line class="d" x1="761.50" y1="215.50" x2="761.50" y2="274.90"/>
<line class="d" x1="677.50" y1="269.50" x2="798.70" y2="269.50"/>
<path class="a" d="M677.50,269.50 L692.50,266.80 L692.50,272.20 Z"/>
<path class="a" d="M742.50,269.50 L727.50,272.20 L727.50,266.80 Z"/>
<path class="a" d="M761.50,269.50 L776.50,266.80 L776.50,272.20 Z"/>
<path class="d" d="M748.0,133.7 L793.3,118.5 L1014.0,118.5"/>
<path class="a" d="M737.40,137.20 L750.74,129.83 L752.47,134.94 Z"/>
<line class="d" x1="542.00" y1="337.50" x2="606.00" y2="337.50"/>
<line class="d" x1="542.00" y1="499.50" x2="572.00" y2="499.50"/>
<line class="d" x1="553.50" y1="337.50" x2="553.50" y2="499.50"/>
<path class="a" d="M553.50,337.50 L556.20,352.50 L550.80,352.50 Z"/>
<path class="a" d="M553.50,499.50 L550.80,484.50 L556.20,484.50 Z"/>
<line class="d" x1="621.50" y1="1306.00" x2="621.50" y2="1400.00"/>
<line class="d" x1="761.50" y1="1318.00" x2="761.50" y2="1400.00"/>
<line class="d" x1="621.50" y1="1386.50" x2="761.50" y2="1386.50"/>
<path class="a" d="M621.50,1386.50 L636.50,1383.80 L636.50,1389.20 Z"/>
<path class="a" d="M761.50,1386.50 L746.50,1389.20 L746.50,1383.80 Z"/>
<g class="txt">
<text x="800.0" y="111.8" font-size="35.3" >2</text>
<text x="826.5" y="111.8" font-size="35.3" >×</text>
<text x="852.9" y="111.8" font-size="35.3" >2</text>
<text x="873.5" y="111.8" font-size="35.3" >−</text>
<text x="895.5" y="111.8" font-size="35.3" >M3</text>
<text x="982.5" y="112.5" font-size="35.3" >4</text>
<text transform="translate(513.3,136.3) rotate(-90)" font-size="36.3" text-anchor="middle" >30</text>
<text transform="translate(799.9,176.1) rotate(-90)" font-size="36.3" text-anchor="middle" >15</text>
<text x="707.5" y="260.3" font-size="36.3" text-anchor="middle" textLength="39.0" lengthAdjust="spacingAndGlyphs" >14</text>
<text x="789.6" y="260.3" font-size="36.3" text-anchor="middle" >4</text>
<text transform="translate(538.1,417.3) rotate(-90)" font-size="36.3" text-anchor="middle" >1000</text>
<text transform="translate(464.2,816.3) rotate(-90)" font-size="36.3" text-anchor="middle" >378</text>
<text transform="translate(221.2,802.5) rotate(-90)" font-size="40.5" text-anchor="middle" >366(Emitting area length)</text>
<text transform="translate(228.0,1310.1) rotate(-90)" font-size="36.3" text-anchor="middle" >6</text>
<text x="338.0" y="1415.0" font-size="40.5" text-anchor="middle" textLength="471.0" lengthAdjust="spacingAndGlyphs" >21.6(Emitting area length)</text>
<text x="691.0" y="1379.5" font-size="36.3" text-anchor="middle" >30</text>
<text x="1238.4" y="1347.8" font-size="36.3" >Unit</text>
<text x="1336.6" y="1347.8" font-size="36.3" >mm</text>
</g>
<g transform="translate(799.9,176.1) rotate(-90)" fill="#fff"><rect x="-18.17" y="-3.27" width="7.37" height="3.99"/><rect x="-7.93" y="-3.27" width="6.92" height="3.99"/></g>
<g fill="#fff"><rect x="689.95" y="257.03" width="7.12" height="3.99"/><rect x="699.84" y="257.03" width="6.69" height="3.99"/></g>
<g transform="translate(538.1,417.3) rotate(-90)" fill="#fff"><rect x="-38.36" y="-3.27" width="7.37" height="3.99"/><rect x="-28.12" y="-3.27" width="6.92" height="3.99"/></g>
<g fill="#fff"><rect x="127.53" y="1411.36" width="8.32" height="4.46"/><rect x="139.09" y="1411.36" width="7.82" height="4.46"/></g>
<rect x="1309.2" y="1337" width="4.2" height="4.2" fill="#000"/>
<rect x="1309.2" y="1346" width="4.2" height="4.2" fill="#000"/>
<g class="k" style="stroke-width:3.2;stroke-linecap:butt">
<path d="M952.6,88.2 L977.9,88.2 M964.8,88.2 L964.8,108.5 M956.8,97.5 L964.8,108.8 L972.8,97.5"/>
</g>
</svg></body></html>
